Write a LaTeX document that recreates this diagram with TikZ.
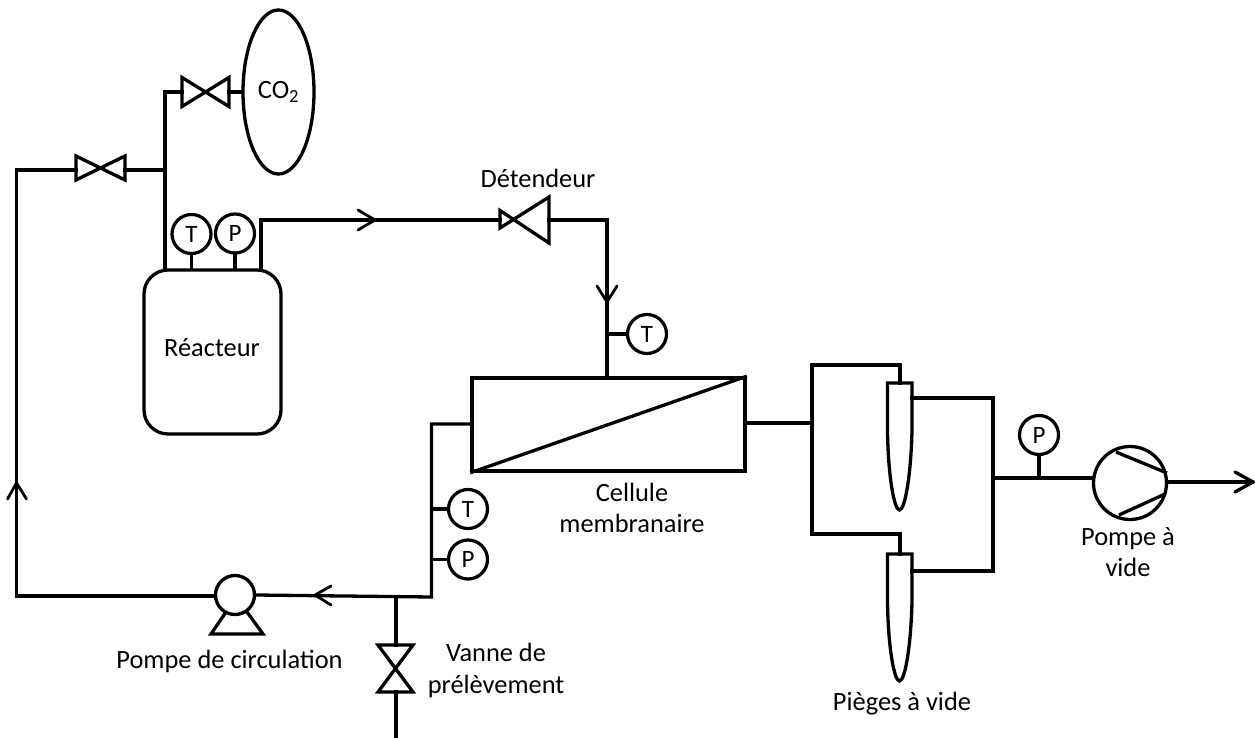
\documentclass[tikz,border=0pt]{standalone}
\usetikzlibrary{shapes.geometric}
\usepackage{fontspec}
\setmainfont{Carlito}
\begin{document}
\begin{tikzpicture}[x=1pt,y=-1pt,
 pipe/.style={line width=3.3pt,line join=miter,line cap=rect},
 shapeline/.style={line width=3.3pt,line join=miter},
 gauge/.style={circle,draw,line width=3.2pt,minimum size=39pt,inner sep=0pt,font=\fontsize{25}{25}\selectfont},
 pumpbody/.style={circle,draw,line width=3.3pt,inner sep=0pt},
 lbl/.style={font=\fontsize{26.4}{31.5}\selectfont,align=center,inner sep=0pt},
 chevron/.style={line width=2.8pt,line cap=round,line join=miter}]
\useasboundingbox (0,0) rectangle (1255,738);
% main equipment
\node[draw,line width=3.3pt,rounded corners=24pt,minimum width=137pt,minimum height=164pt,inner sep=0pt] (reac) at (212.5,352) {};
\node[draw,ellipse,line width=3.3pt,minimum width=71pt,minimum height=164pt,inner sep=0pt,lbl] (co2) at (278.5,92) {CO\textsubscript{2}};
\node[draw,line width=3.6pt,minimum width=273pt,minimum height=93pt,inner sep=0pt] (cell) at (608.5,424.5) {};
\draw[shapeline] (cell.south west) -- (cell.north east);
% gauges
\node[gauge] (gT1) at (191.5,234) {T};
\node[gauge] (gP1) at (235,233.5) {P};
\node[gauge] (gT2) at (647,334) {T};
\node[gauge] (gT3) at (468,509) {T};
\node[gauge] (gP3) at (468,559.5) {P};
\node[gauge] (gP4) at (1039,435) {P};
% pumps
\node[pumpbody,minimum size=39pt] (circ) at (235,595) {};
\node[pumpbody,minimum size=73pt] (vac) at (1130,483) {};
% junctions
\coordinate (jA0) at (165,270);
\coordinate (jA1) at (165,170);
\coordinate (jA2) at (165,92);
\coordinate (v1L) at (182,92);
\coordinate (v1R) at (229,92);
\coordinate (v2L) at (76,170);
\coordinate (v2R) at (125,170);
\coordinate (cL1) at (16.5,170);
\coordinate (cL2) at (16.5,596);
\coordinate (oA) at (261,270);
\coordinate (oB) at (261,220);
\coordinate (dL) at (500,220);
\coordinate (dR) at (549,220);
\coordinate (dC) at (607,220);
\coordinate (dD) at (607,378);
\coordinate (dT) at (607,334);
\coordinate (lA) at (472,424);
\coordinate (lB) at (431.5,424);
\coordinate (lC) at (431.5,597);
\coordinate (jT) at (431.5,509);
\coordinate (jP) at (431.5,559.5);
\coordinate (jV) at (396,597);
\coordinate (vT) at (396,645);
\coordinate (vB) at (396,692);
\coordinate (vE) at (396,738);
\coordinate (rA) at (745,423);
\coordinate (rB) at (812,423);
\coordinate (rT) at (812,365);
\coordinate (rU) at (812,534);
\coordinate (t1S) at (900,365);
\coordinate (t1T) at (900,383);
\coordinate (t2S) at (900,534);
\coordinate (t2T) at (900,554);
\coordinate (oT1) at (912,398);
\coordinate (oC1) at (993,398);
\coordinate (oT2) at (912,571);
\coordinate (oC2) at (993,571);
\coordinate (oJ) at (993,478);
\coordinate (oG) at (1039,478);
\coordinate (oP) at (1093,478);
\coordinate (out) at (1252,482);
% pipes
\draw[pipe] (jA0) -- (jA2) -- (v1L);
\draw[pipe] (v1R) -- (co2.west);
\draw[pipe] (cL2) -- (cL1) -- (v2L);
\draw[pipe] (v2R) -- (jA1);
\draw[pipe] (gT1.south) -- (gT1.south |- reac.north);
\draw[pipe] (gP1.south) -- (gP1.south |- reac.north);
\draw[pipe] (oA) -- (oB) -- (dL);
\draw[pipe] (dR) -- (dC) -- (dD);
\draw[pipe] (dT) -- (gT2.west);
\draw[pipe] (lA) -- (lB) -- (lC) -- (circ.east);
\draw[pipe] (jT) -- (gT3.west);
\draw[pipe] (jP) -- (gP3.west);
\draw[pipe] (cL2) -- (cL2 -| circ.west);
\draw[pipe] (jV) -- (vT);
\draw[pipe] (vB) -- (vE);
\draw[pipe] (rA) -- (rB);
\draw[pipe] (t1T) -- (t1S) -- (rT) -- (rU) -- (t2S) -- (t2T);
\draw[pipe] (oT1) -- (oC1) -- (oC2) -- (oT2);
\draw[pipe] (oJ) -- (oP);
\draw[pipe] (oG) -- (gP4.south);
\draw[pipe] (1167,482) -- (out);
% valves
\draw[shapeline] (182,77.5) -- (229,106.5) -- (229,77.5) -- (182,106.5) -- cycle;
\draw[shapeline] (76,156) -- (125,180) -- (125,156) -- (76,180) -- cycle;
\draw[shapeline] (378,645) -- (413,645) -- (378,692) -- (413,692) -- cycle;
\draw[shapeline] (500,210.5) -- (549,243) -- (549,197) -- (500,228) -- cycle;
% circulation pump base
\draw[shapeline] (226,612) -- (211,634) -- (263,634) -- (247,612);
% vacuum pump vanes
\draw[shapeline] (1116,452) -- (1167,473);
\draw[shapeline] (1119,515) -- (1165,494);
% traps
\draw[shapeline] (887.5,383) -- (912,383) -- (912,430) .. controls (911,475) and (905,510) .. (899.5,510) .. controls (894,510) and (888,475) .. (887.5,430) -- cycle;
\draw[shapeline] (887.5,554) -- (912,554) -- (912,601) .. controls (911,646) and (905,681) .. (899.5,681) .. controls (894,681) and (888,646) .. (887.5,601) -- cycle;
% chevrons
\draw[chevron] (358,210) -- (375,220) -- (358,230);
\draw[chevron] (597,286) -- (607,302) -- (617,286);
\draw[chevron] (331,586) -- (315,595) -- (331,605);
\draw[chevron] (7.5,499) -- (16.5,483) -- (26.5,499);
\draw[chevron,line width=3.3pt] (1235,472) -- (1253,482) -- (1235,492);
% labels
\node[lbl] (tR) at (212,348) {Réacteur};
\node[lbl] (tD) at (538,178.5) {Détendeur};
\node[lbl] (tC) at (632,508) {Cellule\\membranaire};
\node[lbl] (tP) at (229.5,661) {Pompe de circulation};
\node[lbl] (tV) at (496,670.7) {Vanne de\\prélèvement};
\node[lbl] (tG) at (902,704) {Pièges à vide};
\node[lbl] (tV2) at (1128,552) {Pompe à\\vide};
\end{tikzpicture}
\end{document}
